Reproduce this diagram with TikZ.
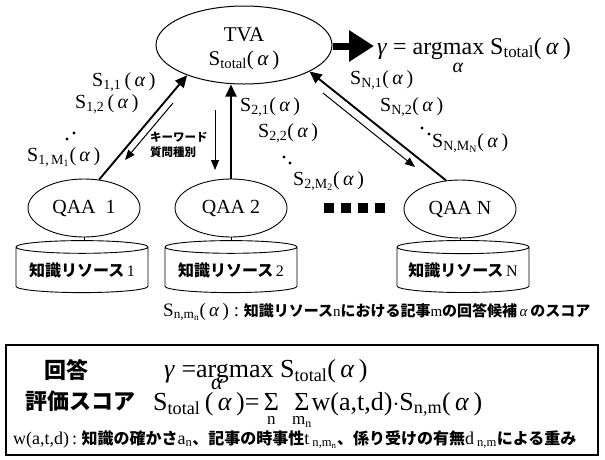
\documentclass[tikz,border=0pt]{standalone}
\usepackage{fontspec}
\usepackage{amsmath}
\setmainfont{Liberation Serif}
\newfontfamily\jp{Noto Sans CJK JP}
\usetikzlibrary{shapes.geometric,arrows.meta,calc}
\newcommand{\fs}[1]{\fontsize{#1}{#1}\selectfont}
\newcommand{\al}{\textit{α}}
\newcommand{\sbs}[1]{\textsubscript{#1}}
\newcommand{\jb}[1]{{\jp\bfseries #1}}
\begin{document}
\begin{tikzpicture}[x=1pt,y=-1pt,
  lbl/.style={inner sep=0pt, font=\fs{20}},
  qaa/.style={ellipse, draw, line width=0.9pt, minimum width=112pt, minimum height=58pt, inner sep=0pt, font=\fs{20}},
  db/.style={cylinder, shape border rotate=90, aspect=0.12, draw, line width=0.9pt, minimum width=132pt, minimum height=52pt, inner sep=0pt, font=\fs{16}},
  thickarr/.style={line width=1.9pt, -{Triangle[length=12pt,width=11pt]}},
  thinarr/.style={line width=1pt, -{Triangle[length=10pt,width=8pt]}},
  dot/.style={fill=black},
]
\useasboundingbox (0,0) rectangle (605,459);

% top agent
\node (tva) [ellipse, draw, line width=1pt, minimum width=176pt, minimum height=78pt, inner sep=0pt] at (244,45) {};
\node (tvat) [lbl, align=center, font=\fs{21}] at (244,49) {TVA\\[3pt] S\sbs{total}(\,\al\,)};
\coordinate (gtip) at (374,46);
\draw[line width=7pt, -{Triangle[length=25pt,width=30pt]}] (tva.east |- gtip) -- (gtip);
\node (gam) [lbl, anchor=base west, font=\fs{24}] at (377,54) {\textit{γ} = argmax S\sbs{total}(\,\al\,)};
\node (gal) [lbl, font=\fs{20}] at (458,68) {\al};

% QAA agents
\node (q1) [qaa] at (84,208) {QAA\ \ 1};
\node (q2) [qaa] at (231,208) {QAA 2};
\node (qn) [qaa] at (460,209) {QAA N};

% knowledge resources
\node (db1) [db] at (82,270) {\jb{知識リソース}\,1};
\node (db2) [db] at (231,270) {\jb{知識リソース}\,2};
\node (dbn) [db] at (463,270) {\jb{知識リソース}\,N};
\draw[line width=0.9pt] (q1.south) -- (q1.south |- db1.north);
\draw[line width=0.9pt] (q2.south) -- (q2.south |- db2.north);
\draw[line width=0.9pt] (qn.south) -- (qn.south |- dbn.north);

% squares
\foreach \x in {329,346,363,380} \fill (\x-5,203) rectangle (\x+5,213);

% QAA1 connectors
\draw[thickarr] (q1.62) -- (tva.208);
\coordinate (k1s) at (173,103);
\coordinate (k1e) at (125,160);
\draw[thinarr] (k1s) -- (k1e);
\node[lbl, anchor=west] (s11) at (92,82) {S\sbs{1,1}\,(\,\al\,)};
\node[lbl, anchor=west] (s12) at (75,104) {S\sbs{1,2}\,(\,\al\,)};
\fill[dot] (67,139) circle (1.7);
\fill[dot] (74,133) circle (1.7);
\node[lbl, anchor=west] (s1m) at (27,157) {S\sbs{1,\,M\textsubscript{1}}(\,\al\,)};
\node[lbl, anchor=west, align=left, font=\jp\bfseries\fs{11.5}] (kw) at (150,145) {キーワード\\[4pt]質問種別};

% QAA2 connectors
\coordinate (k2s) at (215,110);
\coordinate (k2e) at (215,170);
\draw[thinarr] (k2s) -- (k2e);
\draw[thickarr] (q2.north) -- (q2.north |- tva.south);
\node[lbl, anchor=west] (s21) at (240,107) {S\sbs{2,1}(\,\al\,)};
\node[lbl, anchor=west] (s22) at (258,133) {S\sbs{2,2}(\,\al\,)};
\fill[dot] (284,157) circle (1.7);
\fill[dot] (290,163) circle (1.7);
\node[lbl, anchor=west] (s2m) at (293,181) {S\sbs{2,M\textsubscript{2}}(\,\al\,)};

% QAAN connectors
\draw[thickarr] (qn.116) -- (tva.338);
\coordinate (kns) at (323,93);
\coordinate (kne) at (415,167);
\draw[thinarr] (kns) -- (kne);
\node[lbl, anchor=west] (sn1) at (350,80) {S\sbs{N,1}(\,\al\,)};
\node[lbl, anchor=west] (sn2) at (380,107) {S\sbs{N,2}(\,\al\,)};
\fill[dot] (422,128) circle (1.7);
\fill[dot] (429,134) circle (1.7);
\node[lbl, anchor=west] (snm) at (432,143) {S\sbs{N,M\textsubscript{N}}(\,\al\,)};

% caption
\node[lbl, anchor=base west, font=\fs{19}] (cap) at (163,316) {S\sbs{n,m\textsubscript{n}}(\,\al\,)\ :\ {\fs{15}\jb{知識リソース}n\jb{における記事}m\jb{の回答候補}\,\al\,\jb{のスコア}}};

% formula box
\node[draw, line width=1.3pt, minimum width=592pt, minimum height=110pt, inner sep=0pt] (box) at (302,400) {};
\node[lbl, anchor=base, font=\jp\bfseries\fs{22}] (ans) at (66,378) {回答};
\node[lbl, anchor=base west, font=\fs{26}] (f1) at (164,377) {\textit{γ} =argmax S\sbs{total}(\,\al\,)};
\node[lbl, font=\fs{22}] (f1a) at (217,384) {\al};
\node[lbl, anchor=base west, font=\jp\bfseries\fs{22}] (hyo) at (25,409) {評価スコア};
\node[lbl, anchor=base west, font=\fs{26}] (f2) at (153,410) {S\sbs{total}\,(\,\al\,)=\,$\mathop{\hbox{Σ}}\limits_{\hbox{\fs{17}n}}$\ \ $\mathop{\hbox{Σ}}\limits_{\hbox{\fs{17}m\textsubscript{n}}}$w(a,t,d)$\cdot$S\sbs{n,m}(\,\al\,)};
\node[lbl, anchor=base west, font=\fs{18}] (f3) at (13,444) {w(a,t,d)\,:\ {\fs{16}\jb{知識の確かさ}}a\sbs{n}{\fs{16}\jb{、記事の時事性}}t\,\sbs{n,m\textsubscript{n}}{\fs{16}\jb{、係り受けの有無}}d\,\sbs{n,m}{\fs{16}\jb{による重み}}};
\end{tikzpicture}
\end{document}
